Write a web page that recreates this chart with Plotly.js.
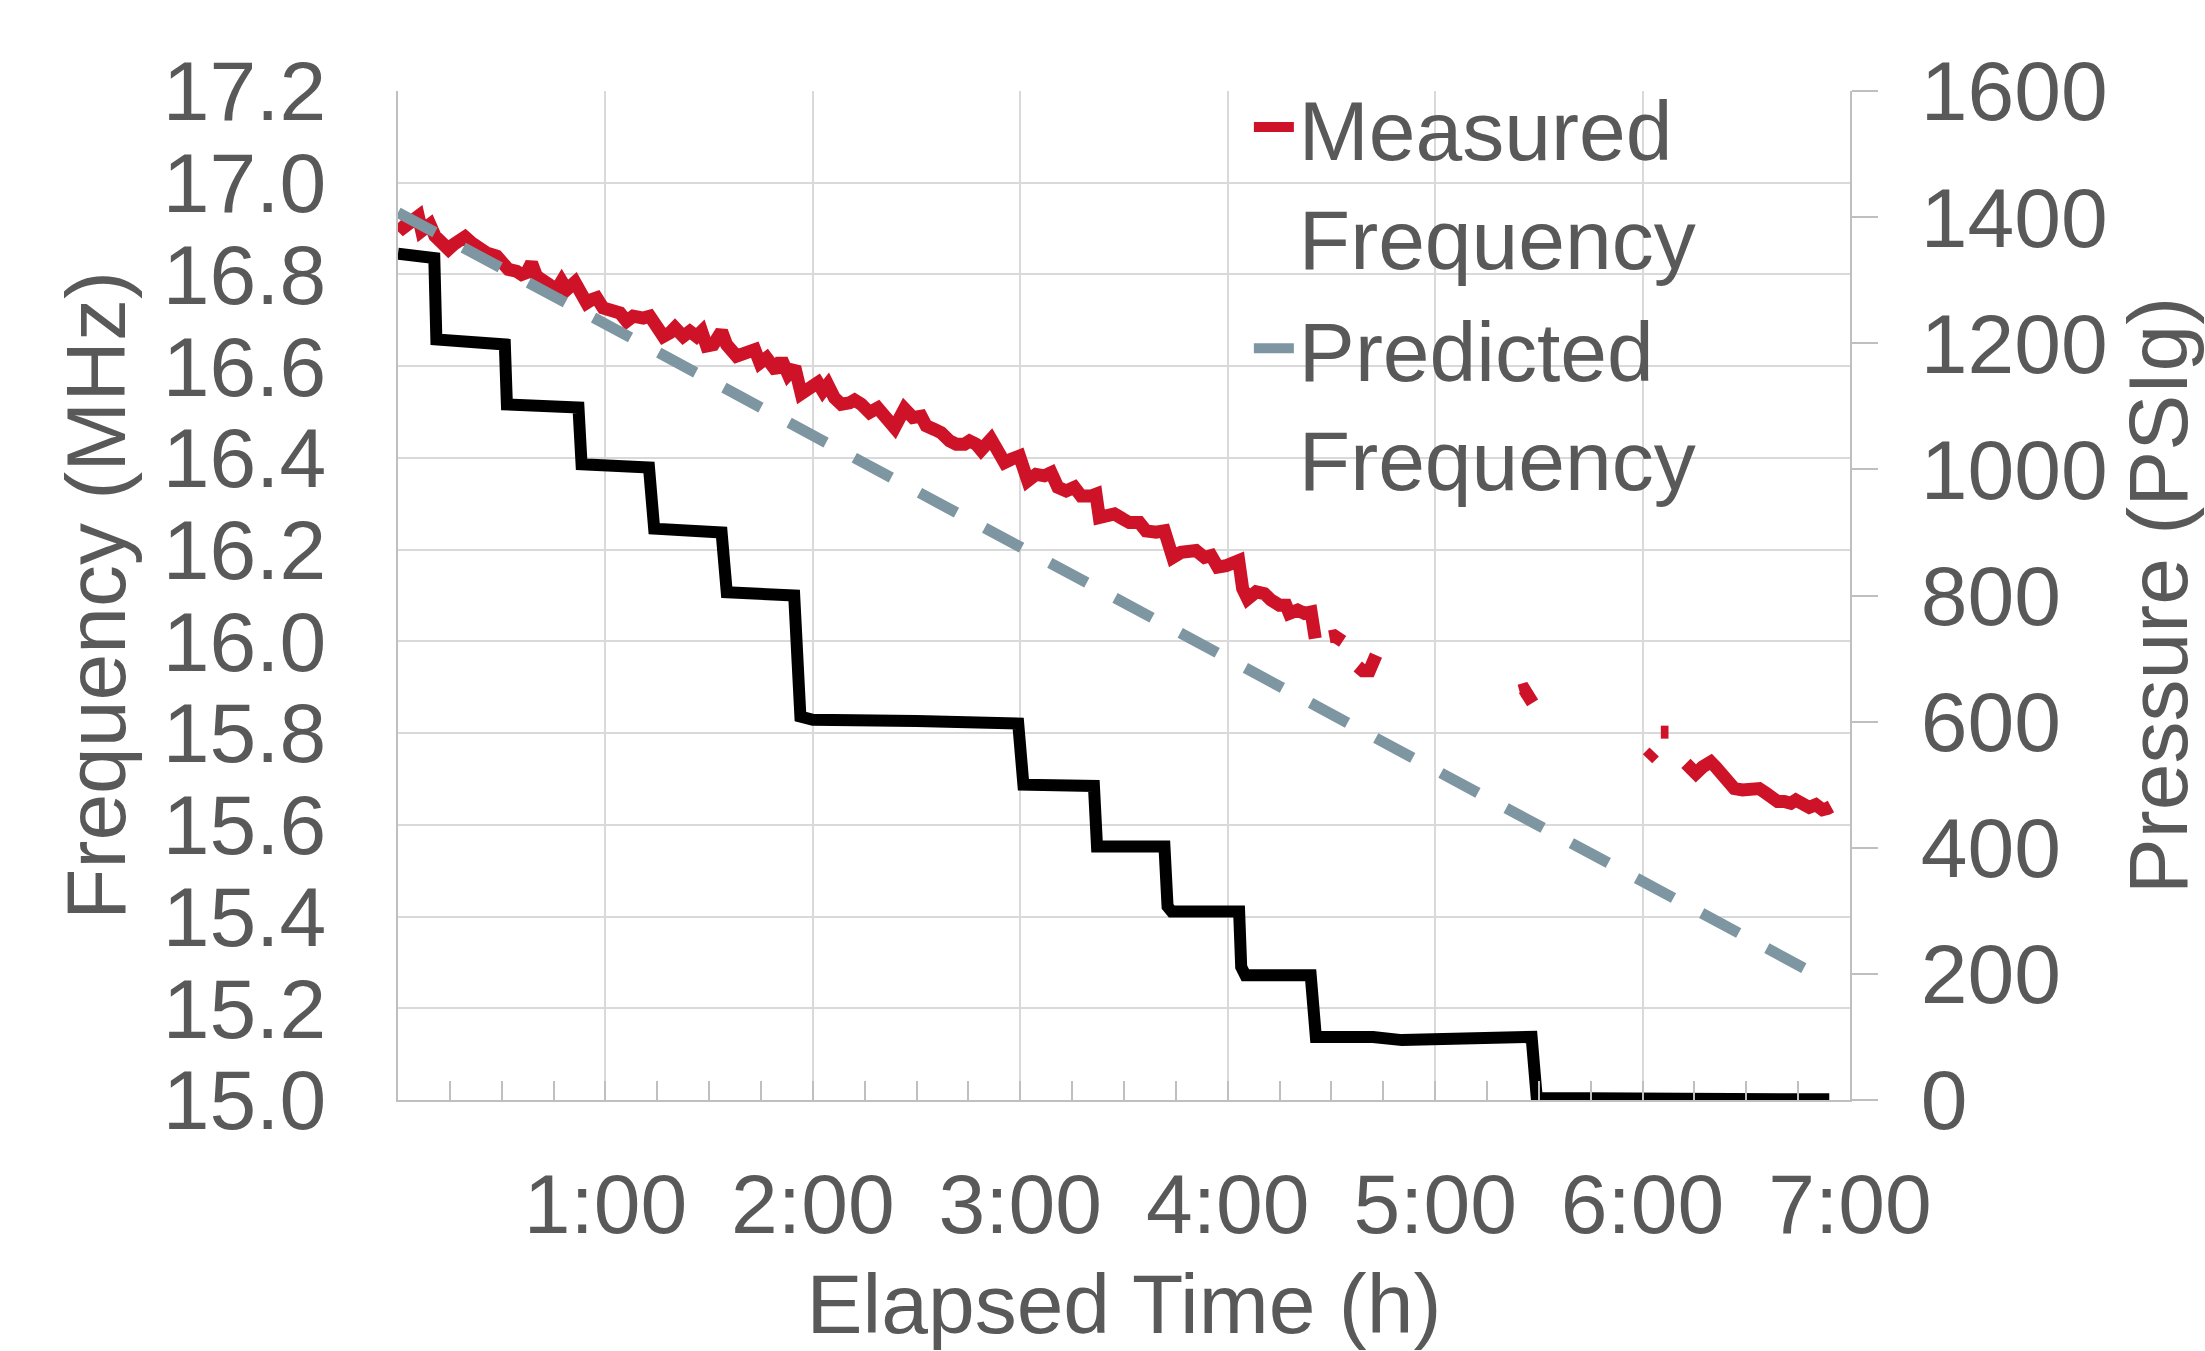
<!DOCTYPE html>
<html>
<head>
<meta charset="utf-8">
<script src="https://cdn.plot.ly/plotly-3.0.1.min.js"></script>
<style>html,body{margin:0;padding:0;background:#fff;}#chart{width:2205px;height:1351px;}</style>
</head>
<body>
<div id="chart"></div>
<script>
// Measured frequency (MHz) vs elapsed time (h); null = missing data (gaps)
const measuredTime = [0.002,0.026,0.066,0.098,0.114,0.154,0.178,0.202,0.243,0.267,0.299,0.323,0.355,0.387,0.427,0.476,0.500,0.532,0.572,0.596,0.620,0.644,0.668,0.700,0.733,0.765,0.789,0.813,0.853,0.885,0.909,0.933,0.958,0.989,1.022,1.070,1.102,1.134,1.182,1.214,1.247,1.279,1.311,1.335,1.375,1.407,1.439,1.464,1.488,1.520,1.560,1.584,1.632,1.664,1.696,1.720,1.745,1.777,1.825,1.849,1.881,1.913,1.944,1.984,2.024,2.048,2.072,2.104,2.137,2.177,2.201,2.233,2.273,2.313,2.345,2.394,2.442,2.482,2.522,2.546,2.586,2.618,2.659,2.691,2.731,2.755,2.787,2.811,2.859,2.884,2.924,2.956,2.996,3.036,3.076,3.116,3.149,3.181,3.221,3.261,3.293,3.341,3.365,3.381,3.422,3.454,3.494,3.526,3.574,3.606,3.655,3.695,3.735,3.775,3.847,3.888,3.920,3.952,3.992,4.024,4.053,4.072,4.096,4.137,4.177,4.209,4.249,4.281,4.297,4.337,4.370,4.402,4.422,4.456,4.490,4.514,4.554,4.590,4.627,4.651,4.683,4.696,4.715,5.000,5.406,5.430,5.470,5.750,6.024,6.056,6.070,6.088,6.125,6.165,6.209,6.225,6.257,6.289,6.329,6.353,6.386,6.410,6.442,6.482,6.522,6.562,6.595,6.618,6.651,6.683,6.715,6.739,6.771,6.803,6.835,6.867,6.892,6.908];
const measuredFreq = [16.913,16.902,16.916,16.927,16.895,16.909,16.884,16.869,16.855,16.865,16.876,16.882,16.869,16.858,16.847,16.840,16.829,16.811,16.807,16.800,16.804,16.825,16.796,16.785,16.771,16.767,16.785,16.767,16.783,16.760,16.738,16.745,16.749,16.727,16.720,16.716,16.698,16.709,16.705,16.709,16.687,16.665,16.673,16.684,16.665,16.676,16.665,16.676,16.644,16.647,16.676,16.647,16.622,16.625,16.629,16.636,16.607,16.618,16.589,16.615,16.582,16.598,16.540,16.553,16.564,16.546,16.560,16.531,16.517,16.520,16.526,16.517,16.499,16.509,16.488,16.466,16.507,16.488,16.491,16.470,16.462,16.455,16.437,16.430,16.430,16.437,16.430,16.417,16.441,16.422,16.390,16.397,16.404,16.350,16.364,16.361,16.368,16.336,16.328,16.336,16.317,16.317,16.321,16.270,16.274,16.278,16.267,16.259,16.259,16.241,16.238,16.241,16.183,16.194,16.198,16.183,16.187,16.162,16.165,16.169,16.176,16.115,16.093,16.108,16.104,16.090,16.079,16.079,16.061,16.068,16.061,16.064,16.006,null,16.010,16.012,16.000,null,15.945,15.936,15.936,15.956,15.970,null,15.892,15.895,15.866,null,15.744,15.759,null,15.802,15.802,null,15.734,15.723,15.712,15.726,15.737,15.726,15.705,15.694,15.679,15.676,15.676,15.679,15.669,15.661,15.651,15.651,15.647,15.654,15.647,15.638,15.644,15.633,15.636,15.640];

// Predicted frequency (MHz)
const predictedTime = [0, 6.904];
const predictedFreq = [16.935, 15.257];

// Pressure (PSIg), right axis
const pressureTime = [0,0.09,0.175,0.185,0.35,0.515,0.525,0.70,0.87,0.885,1.05,1.21,1.235,1.40,1.56,1.585,1.75,1.91,1.94,2.0,2.5,2.99,3.015,3.20,3.355,3.37,3.55,3.695,3.71,3.73,3.90,4.055,4.065,4.085,4.25,4.40,4.425,4.70,4.84,5.00,5.20,5.465,5.49,6.00,6.50,6.90];
const pressureVal = [1342,1339,1335,1206,1200,1198,1103,1101,1098,1008,1006,1003,906,903,900,805,803,800,608,603,601,597,500,500,498,402,402,402,307,299,299,299,211,198,198,198,100,100,95,97,100,100,3,2,2,1];

// Tick labels
const xTickVals = [1,2,3,4,5,6,7];
const xTickText = ["1:00","2:00","3:00","4:00","5:00","6:00","7:00"];

const textColor = "#595959";
const fontFam = "'Liberation Sans', Arial, sans-serif";
const FS = 84;

const traces = [
  {x: measuredTime, y: measuredFreq, type: 'scatter', mode: 'lines', name: 'Measured<br>Frequency',
   line: {color: '#CE1228', width: 13}, connectgaps: false, yaxis: 'y'},
  {x: predictedTime, y: predictedFreq, type: 'scatter', mode: 'lines', name: 'Predicted<br>Frequency',
   line: {color: '#7D96A1', width: 11, dash: '42px,32px'}, yaxis: 'y'},
  {x: pressureTime, y: pressureVal, type: 'scatter', mode: 'lines', name: 'Pressure',
   line: {color: '#000000', width: 12}, yaxis: 'y2', showlegend: false}
];

const layout = {
  width: 2205, height: 1351,
  margin: {l: 398, r: 355, t: 91, b: 251, pad: 0},
  paper_bgcolor: '#ffffff', plot_bgcolor: '#ffffff',
  font: {family: fontFam, size: FS, color: textColor},
  showlegend: true,
  legend: {x: 0.586, y: 1.025, xanchor: 'left', yanchor: 'top', bgcolor: 'rgba(0,0,0,0)',
           font: {size: FS, color: textColor, family: fontFam}, valign: 'top', tracegroupgap: 0,
           itemwidth: 40},
  xaxis: {
    range: [0, 7], tickmode: 'array', tickvals: xTickVals, ticktext: xTickText,
    showgrid: true, gridcolor: '#d9d9d9', gridwidth: 2,
    showline: true, linecolor: '#bfbfbf', linewidth: 2, zeroline: false,
    ticks: 'inside', ticklen: 19, tickwidth: 2, tickcolor: '#bfbfbf',
    minor: {tickmode: 'linear', tick0: 0, dtick: 0.25, ticks: 'inside', ticklen: 19, tickwidth: 2, tickcolor: '#bfbfbf', showgrid: false},
    tickfont: {size: FS, color: textColor, family: fontFam},
    ticklabelstandoff: 30,
    title: {text: 'Elapsed Time (h)', font: {size: FS, color: textColor, family: fontFam}, standoff: 28},
    automargin: false
  },
  yaxis: {
    range: [15, 17.2], tickmode: 'linear', tick0: 15, dtick: 0.2, tickformat: '.1f',
    showgrid: true, gridcolor: '#d9d9d9', gridwidth: 2,
    showline: true, linecolor: '#bfbfbf', linewidth: 2, zeroline: false, ticks: '',
    tickfont: {size: FS, color: textColor, family: fontFam},
    ticklabelstandoff: 53,
    title: {text: 'Frequency (MHz)', font: {size: FS, color: textColor, family: fontFam}, standoff: 9},
    automargin: false
  },
  yaxis2: {
    overlaying: 'y', side: 'right', anchor: 'x',
    range: [0, 1600], tickmode: 'linear', tick0: 0, dtick: 200,
    showgrid: false, showline: true, linecolor: '#bfbfbf', linewidth: 2, zeroline: false,
    ticks: 'outside', ticklen: 26, tickwidth: 2, tickcolor: '#bfbfbf',
    tickfont: {size: FS, color: textColor, family: fontFam},
    ticklabelstandoff: 26,
    title: {text: 'Pressure (PSIg)', font: {size: FS, color: textColor, family: fontFam}, standoff: 29},
    automargin: false
  }
};

Plotly.newPlot('chart', traces, layout, {displayModeBar: false, staticPlot: true});
</script>
</body>
</html>
